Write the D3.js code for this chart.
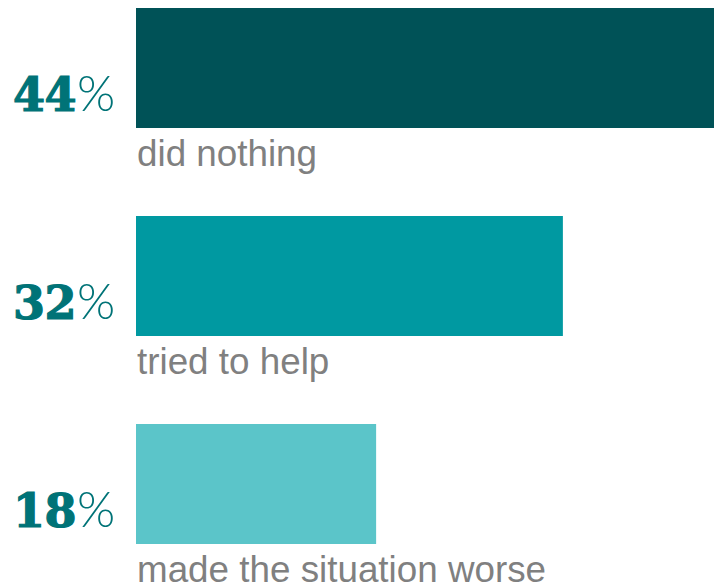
<!DOCTYPE html>
<html>
<head>
<meta charset="utf-8">
<script src="https://cdn.jsdelivr.net/npm/d3@7"></script>
<style>
  html, body { margin: 0; padding: 0; background: #fff; }
  svg { display: block; }
</style>
</head>
<body>
<svg id="chart" width="714" height="586"></svg>
<script>
const categories = ["did nothing", "tried to help", "made the situation worse"];
const values = [44, 32, 18];
const colors = ["#005257", "#0099a1", "#5bc5c9"];

const svg = d3.select("#chart");

const x = d3.scaleLinear()
  .domain([0, 50])
  .range([136, 803]);

const y = d3.scaleBand()
  .domain(categories)
  .range([8, 544])
  .paddingInner(88 / 208);

const rows = categories.map((c, i) => ({ cat: c, value: values[i], color: colors[i] }));

svg.selectAll(".bar")
  .data(rows)
  .enter().append("rect")
  .attr("class", "bar")
  .attr("x", x(0))
  .attr("y", d => y(d.cat))
  .attr("width", d => x(d.value) - x(0))
  .attr("height", y.bandwidth())
  .attr("fill", d => d.color);

// labels under bars
svg.selectAll(".label")
  .data(rows)
  .enter().append("text")
  .attr("class", "label")
  .attr("x", x(0) + 1)
  .attr("y", d => y(d.cat) + y.bandwidth() + 38)
  .attr("font-family", "'Liberation Sans', Arial, sans-serif")
  .attr("font-size", 36.8)
  .attr("fill", "#808080")
  .text(d => d.cat);

// big percentage numbers
const num = svg.selectAll(".num")
  .data(rows)
  .enter().append("text")
  .attr("class", "num")
  .attr("x", 13)
  .attr("y", d => y(d.cat) + y.bandwidth() / 2 + 43)
  .attr("fill", "#007377");

num.append("tspan")
  .attr("font-family", "'DejaVu Serif', serif")
  .attr("font-weight", "bold")
  .attr("font-size", 46)
  .attr("stroke", "#007377")
  .attr("stroke-width", 1.2)
  .attr("letter-spacing", -0.5)
  .text(d => d.value);

num.append("tspan")
  .attr("font-family", "Lato, 'Open Sans', sans-serif")
  .attr("font-weight", 300)
  .attr("font-size", 49)
  .attr("dx", 1)
  .text("%");
</script>
</body>
</html>
